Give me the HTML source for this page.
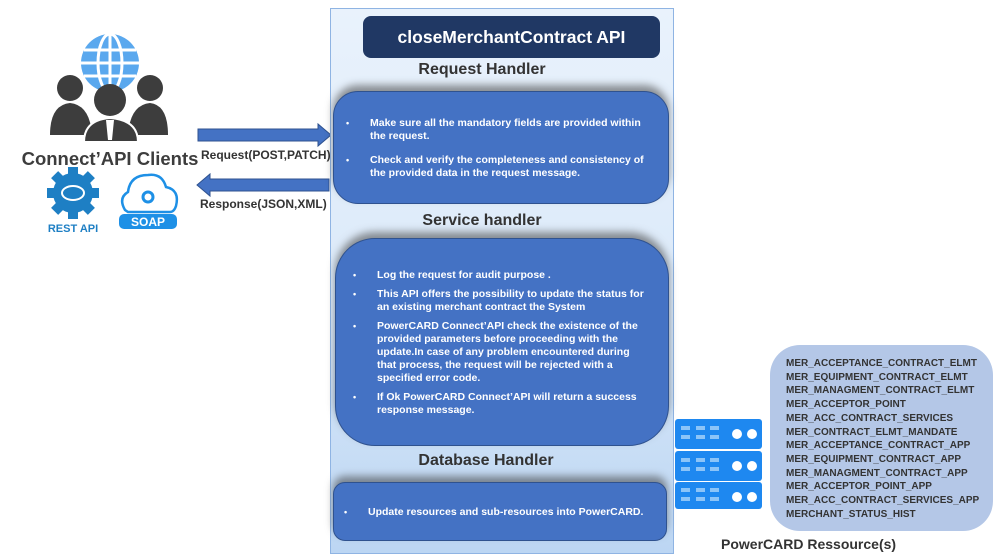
<!DOCTYPE html>
<html><head><meta charset="utf-8"><style>
*{margin:0;padding:0;box-sizing:border-box}
body{width:999px;height:557px;background:#fff;position:relative;overflow:hidden;font-family:"Liberation Sans",Arial,sans-serif}
.abs{position:absolute}
.panel{left:330px;top:8px;width:344px;height:546px;border:1px solid #8fb4e3;background:linear-gradient(#e9f2fc,#dceaf9 50%,#bcd6f3)}
.title{left:363px;top:16px;width:297px;height:42px;background:#203864;border-radius:8px;color:#fff;font-weight:bold;font-size:17.5px;text-align:center;line-height:42px}
.lbl{font-family:"Liberation Sans",sans-serif;font-weight:bold;font-size:16px;color:#333;text-align:center;width:300px}
.box{background:#4472c4;border:1px solid #2f528f;color:#fff;font-weight:bold;font-size:10.5px;line-height:13px;box-shadow:0 -6px 8px rgba(60,60,60,.55)}
.box ul{list-style:none}
.box li{position:relative;padding-left:0}
.box li:before{content:"•";position:absolute;left:-24px;font-size:9px}
.res{left:770px;top:345px;width:223px;height:186px;background:#b4c7e7;border-radius:30px;padding:12px 0 0 16px;font-weight:bold;font-size:10px;line-height:13.7px;color:#333}
.srv{left:675px;width:87px;background:#1e88f0;border-radius:3px}
</style></head><body>

<svg class="abs" style="left:0;top:30px" width="200" height="210" viewBox="0 0 200 210">
 <g fill="#5aa8ee">
  <circle cx="110" cy="33" r="29"/>
 </g>
 <g stroke="#fff" stroke-width="3" fill="none">
  <ellipse cx="110" cy="33" rx="12" ry="29"/>
  <line x1="81" y1="33" x2="139" y2="33"/>
  <line x1="84" y1="20" x2="136" y2="20"/>
  <line x1="84" y1="46" x2="136" y2="46"/>
  <line x1="110" y1="4" x2="110" y2="62"/>
 </g>
 <g fill="#3d3d3d">
  <circle cx="70" cy="58" r="13"/>
  <path d="M50 105 Q50 75 70 73 Q90 75 92 105Z"/>
  <circle cx="150" cy="58" r="13"/>
  <path d="M128 105 Q130 75 150 73 Q168 75 168 105Z"/>
  <circle cx="110" cy="70" r="16"/>
  <path d="M84 112 Q84 90 110 88 Q138 90 138 112Z" stroke="#fff" stroke-width="2"/>
 </g>
 <path d="M106 90 L114 90 L112 110 L108 110Z" fill="#fff"/>
 <text x="110" y="135" text-anchor="middle" font-family="Liberation Sans,sans-serif" font-weight="bold" font-size="18.5" fill="#3d3d3d">Connect’API Clients</text>
 <g transform="translate(73,163)">
  <circle r="20" fill="#1e7fc4"/>
  <g fill="#1e7fc4">
   <rect x="-5" y="-26" width="10" height="52"/>
   <rect x="-26" y="-5" width="52" height="10"/>
   <rect x="-5" y="-26" width="10" height="52" transform="rotate(45)"/>
   <rect x="-5" y="-26" width="10" height="52" transform="rotate(-45)"/>
  </g>
  <ellipse rx="11" ry="7" fill="none" stroke="#fff" stroke-width="2"/>
 </g>
 <text x="73" y="202" text-anchor="middle" font-family="Liberation Sans,sans-serif" font-weight="bold" font-size="11" fill="#1e7fc4">REST API</text>
 <path d="M125 180 Q118 168 128 162 Q130 145 148 145 Q162 143 166 157 Q180 160 176 176 Q174 182 170 182 L128 182Z" fill="#fff" stroke="#1e90e6" stroke-width="2.5"/>
 <circle cx="148" cy="167" r="5" fill="none" stroke="#1e90e6" stroke-width="3"/>
 <rect x="119" y="184" width="58" height="15" rx="5" fill="#1e90e6"/>
 <text x="148" y="196" text-anchor="middle" font-family="Liberation Sans,sans-serif" font-weight="bold" font-size="12" fill="#fff">SOAP</text>
</svg>

<svg class="abs" style="left:190px;top:115px" width="145" height="85">
 <path d="M8 14 L128 14 L128 9 L141 20 L128 31 L128 26 L8 26Z" fill="#4472c4" stroke="#2f528f"/>
 <path d="M139 64 L20 64 L20 59 L7 70 L20 81 L20 76 L139 76Z" fill="#4472c4" stroke="#2f528f"/>
</svg>
<div class="abs" style="left:201px;top:148px;font-size:12px;font-weight:bold;color:#333">Request(POST,PATCH)</div>
<div class="abs" style="left:200px;top:197px;font-size:12px;font-weight:bold;color:#333">Response(JSON,XML)</div>

<div class="abs panel"></div>
<div class="abs title">closeMerchantContract API</div>
<div class="abs lbl" style="left:332px;top:61px">Request Handler</div>
<div class="abs box" style="left:333px;top:91px;width:336px;height:113px;border-radius:25px;padding:25px 20px 0 36px">
 <ul><li>Make sure all the mandatory fields are provided within the request.</li>
 <li style="margin-top:11px">Check and verify the completeness and consistency of the provided data in the request message.</li></ul>
</div>
<div class="abs lbl" style="left:332px;top:212px">Service handler</div>
<div class="abs box" style="left:335px;top:238px;width:334px;height:208px;border-radius:40px;padding:30px 20px 0 41px">
 <ul><li>Log the request for audit purpose .</li>
 <li style="margin-top:6px">This API offers the possibility to update the status for an existing merchant contract the System</li>
 <li style="margin-top:6px">PowerCARD Connect’API check the existence of the provided parameters before proceeding with the update.In case of any problem encountered during that process, the request will be rejected with a specified error code.</li>
 <li style="margin-top:6px">If Ok PowerCARD Connect’API will return a success response message.</li></ul>
</div>
<div class="abs lbl" style="left:336px;top:452px">Database Handler</div>
<div class="abs box" style="left:333px;top:482px;width:334px;height:59px;border-radius:12px;padding:23px 10px 0 34px">
 <ul><li>Update resources and sub-resources into PowerCARD.</li></ul>
</div>

<div class="abs srv" style="top:419px;height:30px"></div>
<div class="abs srv" style="top:451px;height:30px"></div>
<div class="abs srv" style="top:482px;height:27px"></div>
<svg class="abs" style="left:675px;top:419px" width="87" height="92">
 <g fill="#8cc4f8">
  <rect x="6" y="7" width="9" height="4"/><rect x="21" y="7" width="9" height="4"/><rect x="35" y="7" width="9" height="4"/>
  <rect x="6" y="16" width="9" height="4"/><rect x="21" y="16" width="9" height="4"/><rect x="35" y="16" width="9" height="4"/>
  <rect x="6" y="39" width="9" height="4"/><rect x="21" y="39" width="9" height="4"/><rect x="35" y="39" width="9" height="4"/>
  <rect x="6" y="48" width="9" height="4"/><rect x="21" y="48" width="9" height="4"/><rect x="35" y="48" width="9" height="4"/>
  <rect x="6" y="69" width="9" height="4"/><rect x="21" y="69" width="9" height="4"/><rect x="35" y="69" width="9" height="4"/>
  <rect x="6" y="78" width="9" height="4"/><rect x="21" y="78" width="9" height="4"/><rect x="35" y="78" width="9" height="4"/>
 </g>
 <g fill="#fff">
  <circle cx="62" cy="15" r="5"/><circle cx="77" cy="15" r="5"/>
  <circle cx="62" cy="47" r="5"/><circle cx="77" cy="47" r="5"/>
  <circle cx="62" cy="78" r="5"/><circle cx="77" cy="78" r="5"/>
 </g>
</svg>

<div class="abs res">MER_ACCEPTANCE_CONTRACT_ELMT<br>MER_EQUIPMENT_CONTRACT_ELMT<br>MER_MANAGMENT_CONTRACT_ELMT<br>MER_ACCEPTOR_POINT<br>MER_ACC_CONTRACT_SERVICES<br>MER_CONTRACT_ELMT_MANDATE<br>MER_ACCEPTANCE_CONTRACT_APP<br>MER_EQUIPMENT_CONTRACT_APP<br>MER_MANAGMENT_CONTRACT_APP<br>MER_ACCEPTOR_POINT_APP<br>MER_ACC_CONTRACT_SERVICES_APP<br>MERCHANT_STATUS_HIST</div>
<div class="abs" style="left:721px;top:536px;font-size:14px;font-weight:bold;color:#333">PowerCARD Ressource(s)</div>
</body></html>
